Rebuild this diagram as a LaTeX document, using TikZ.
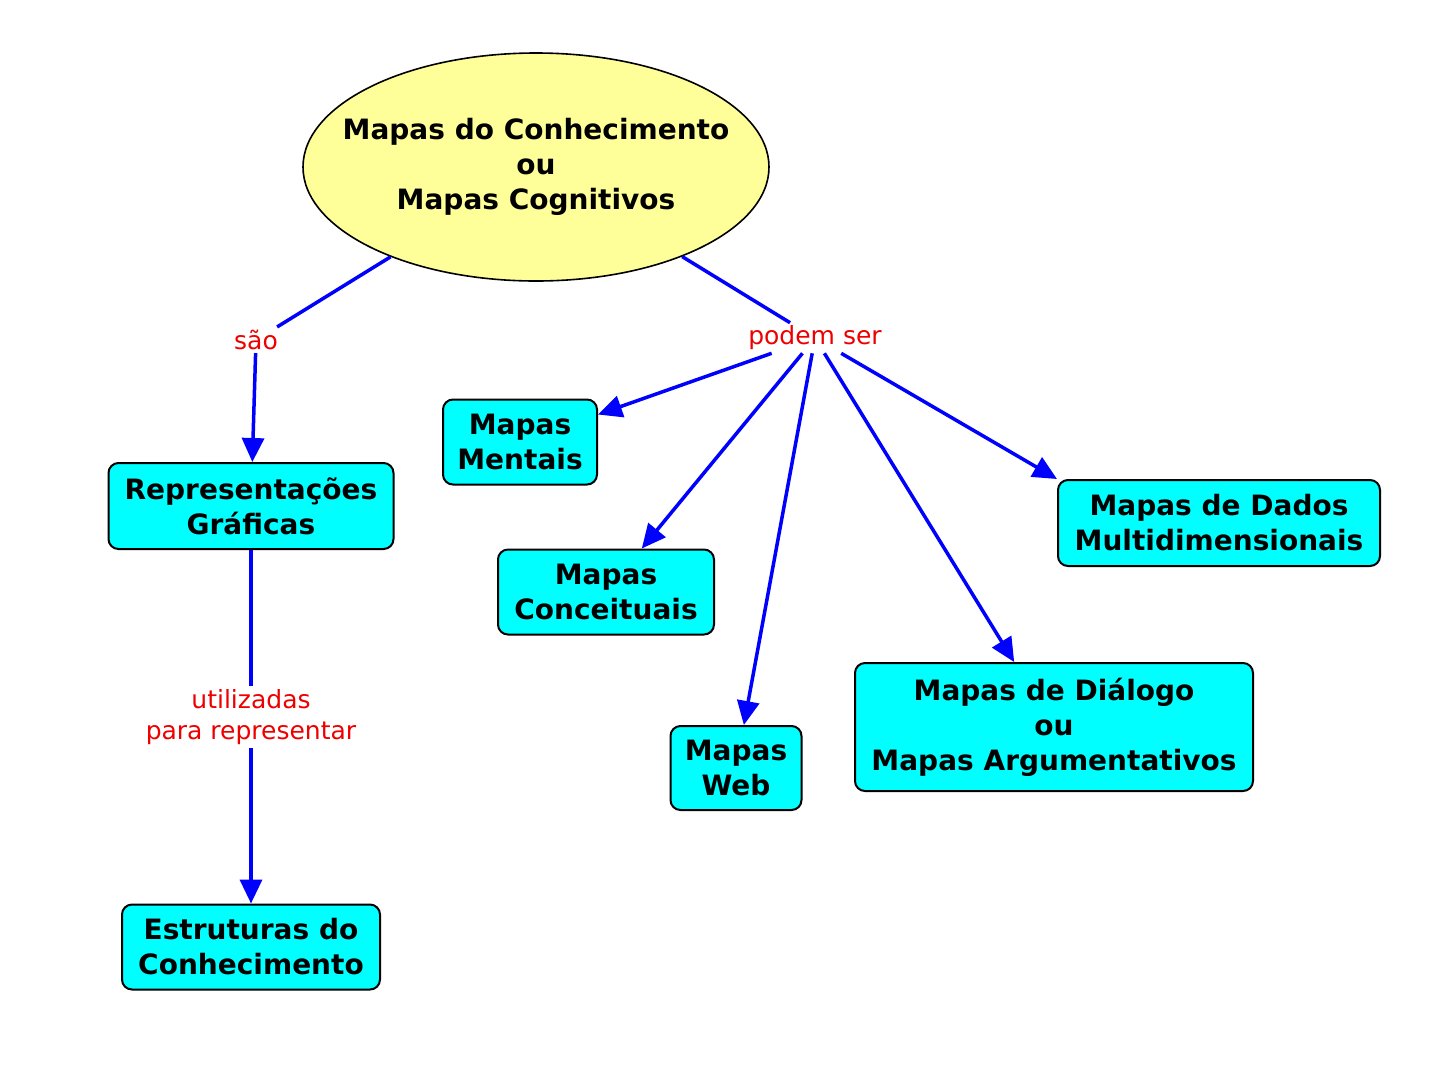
\documentclass[tikz,border=0pt]{standalone}
\usepackage{fontspec}
\setmainfont{DejaVu Sans}
\usetikzlibrary{shapes.geometric,arrows.meta}
\definecolor{boxcyan}{HTML}{00FFFF}
\definecolor{ellyellow}{HTML}{FFFF99}
\definecolor{linkblue}{HTML}{0000FF}
\definecolor{labred}{HTML}{EE0000}
\tikzset{
  bigtext/.style={align=center, font=\fontsize{28}{35}\selectfont\bfseries},
  concept/.style={bigtext, draw=black, line width=2pt, fill=boxcyan, rounded corners=10pt, inner sep=0pt},
  linklab/.style={text=labred, align=center, font=\fontsize{25}{31}\selectfont, inner sep=3pt},
  conn/.style={draw=linkblue, line width=3.5pt},
  arr/.style={conn, -{Triangle[length=24pt,width=22pt]}},
}
\begin{document}
\begin{tikzpicture}[x=1pt,y=-1pt]
\useasboundingbox[fill=white] (0,0) rectangle (1440,1080);
\node[ellipse, draw=black, line width=1.6pt, fill=ellyellow, minimum width=466pt, minimum height=228pt,
  inner sep=0pt] (top) at (536,167) {};
\node[bigtext] (toptext) at (top.center) {Mapas do Conhecimento\\ou\\Mapas Cognitivos};
\node[concept, minimum width=285pt, minimum height=86pt] (rep) at (251,506) {Representações\\Gráficas};
\node[concept, minimum width=258pt, minimum height=85pt] (est) at (251,947) {Estruturas do\\Conhecimento};
\node[concept, minimum width=154pt, minimum height=85pt] (men) at (520,442) {Mapas\\Mentais};
\node[concept, minimum width=216pt, minimum height=85pt] (con) at (606,592) {Mapas\\Conceituais};
\node[concept, minimum width=131pt, minimum height=84pt] (web) at (736,768) {Mapas\\Web};
\node[concept, minimum width=398pt, minimum height=128pt] (dia) at (1054,727) {Mapas de Diálogo\\ou\\Mapas Argumentativos};
\node[concept, minimum width=322pt, minimum height=86pt] (dad) at (1219,523) {Mapas de Dados\\Multidimensionais};
\node[linklab] (sao) at (256,340) {são};
\node[linklab] (pod) at (815,338) {podem ser};
\node[linklab] (uti) at (251,717) {utilizadas\\para representar};
\draw[conn] (top) -- (sao);
\draw[arr] (sao) -- (rep);
\draw[conn] (top) -- (pod);
\draw[arr] (pod) -- (men);
\draw[arr] (pod) -- (con);
\draw[arr] (pod) -- (web);
\draw[arr] (pod) -- (dia);
\draw[arr] (pod) -- (dad.north west);
\draw[conn] (rep) -- (uti);
\draw[arr] (uti) -- (est);
\end{tikzpicture}
\end{document}
